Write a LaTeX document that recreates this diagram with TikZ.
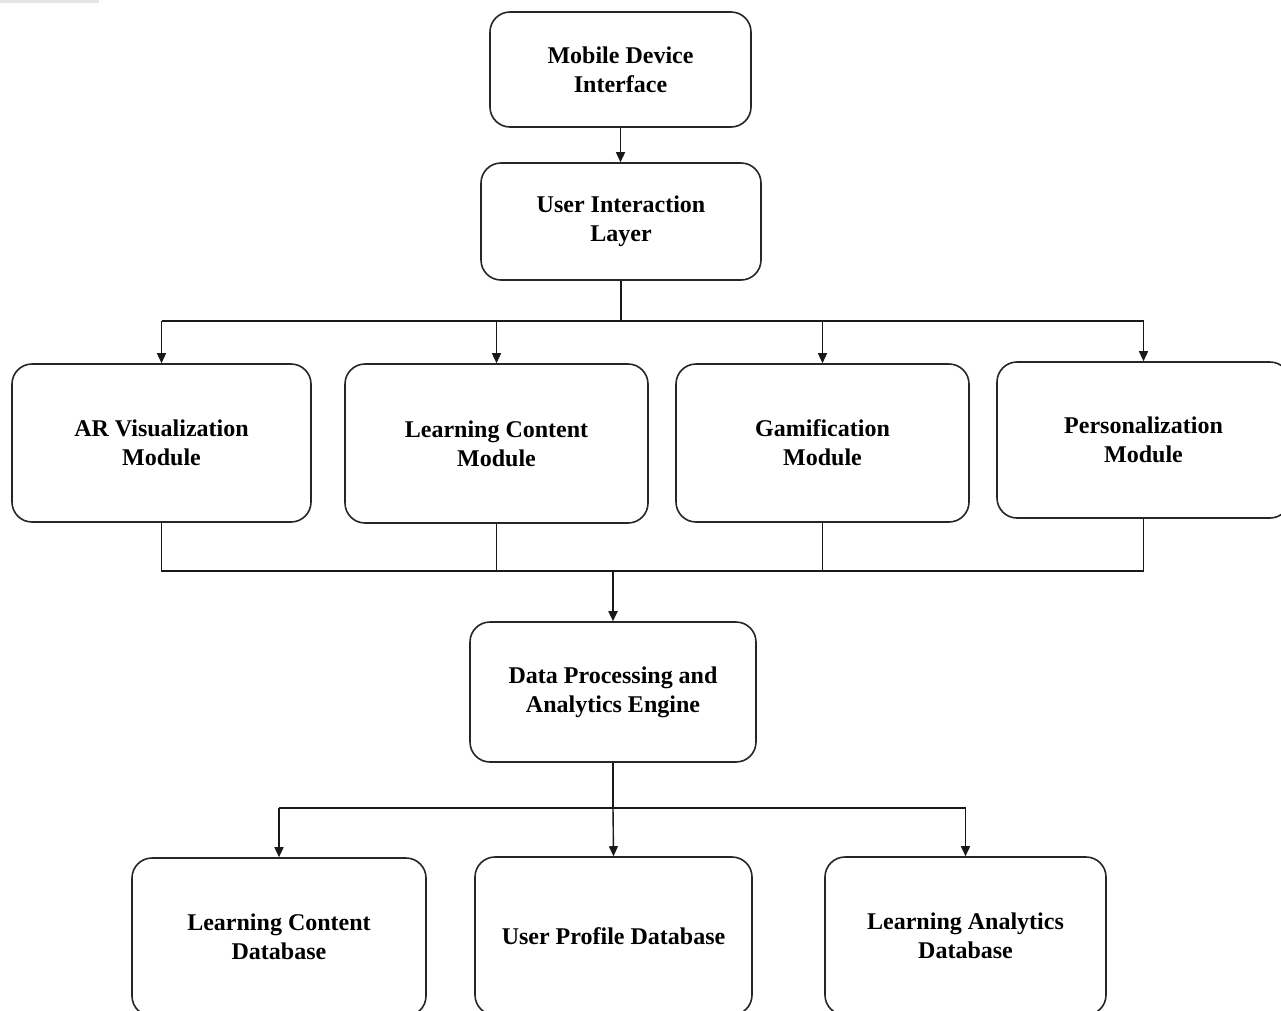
\documentclass[tikz,border=0pt]{standalone}
\usepackage{fontspec}
\setmainfont{Liberation Serif}
\usetikzlibrary{arrows.meta}
\begin{document}
\begin{tikzpicture}[x=1pt,y=-1pt,
  box/.style={draw=black!85, line width=1.6pt, rounded corners=20pt, fill=white,
    align=center, inner sep=0pt, font=\bfseries\fontsize{24}{29}\selectfont},
  conn/.style={draw=black!90, line width=1.4pt},
  arr/.style={conn, -{Triangle[length=10pt,width=9pt]}}]
\useasboundingbox (0,0) rectangle (1281,1010);
\clip (0,0) rectangle (1281,1010);
\fill[white] (0,0) rectangle (1281,1010);
\fill[black!10] (0,0) rectangle (99,2.5);
% nodes
\node[box, minimum width=261pt, minimum height=115pt] (mdi) at (620.5,69.5) {Mobile Device\\Interface};
\node[box, minimum width=280pt, minimum height=117pt] (uil) at (621,221.5) {User Interaction\\Layer};
\node[box, minimum width=299pt, minimum height=158pt] (ar) at (161.5,443) {AR Visualization\\Module};
\node[box, minimum width=303pt, minimum height=159pt] (lc) at (496.5,443.5) {Learning Content\\Module};
\node[box, minimum width=293pt, minimum height=158pt] (gm) at (822.5,443) {Gamification\\Module};
\node[box, minimum width=293pt, minimum height=156pt] (pm) at (1143.5,440) {Personalization\\Module};
\node[box, minimum width=286pt, minimum height=140pt] (dp) at (613,692) {Data Processing and\\Analytics Engine};
\node[box, minimum width=294pt, minimum height=158pt] (lcd) at (279,937) {Learning Content\\Database};
\node[box, minimum width=277pt, minimum height=158pt] (upd) at (613.5,936) {User Profile Database};
\node[box, minimum width=281pt, minimum height=158pt] (lad) at (965.5,936) {Learning Analytics\\Database};
% junction coordinates
\coordinate (j1) at (620,321);
\coordinate (j2) at (613,571);
\coordinate (j3) at (613,808);
% top
\draw[arr] (mdi.south) -- (mdi.south |- uil.north);
\draw[conn] (uil.south) -- (uil.south |- j1);
\draw[conn] (ar.north |- j1) -- (pm.north |- j1);
\draw[arr] (ar.north |- j1) -- (ar.north);
\draw[arr] (lc.north |- j1) -- (lc.north);
\draw[arr] (gm.north |- j1) -- (gm.north);
\draw[arr] (pm.north |- j1) -- (pm.north);
% merge
\draw[conn] (ar.south) -- (ar.south |- j2) -- (pm.south |- j2) -- (pm.south);
\draw[conn] (lc.south) -- (lc.south |- j2);
\draw[conn] (gm.south) -- (gm.south |- j2);
\draw[arr, line width=1.8pt] (j2) -- (dp.north);
% bottom
\draw[conn] (dp.south) -- (j3);
\draw[conn] (lcd.north |- j3) -- (lad.north |- j3);
\draw[arr] (lcd.north |- j3) -- (lcd.north);
\draw[arr] (j3) -- (upd.north);
\draw[arr] (lad.north |- j3) -- (lad.north);
\end{tikzpicture}
\end{document}
